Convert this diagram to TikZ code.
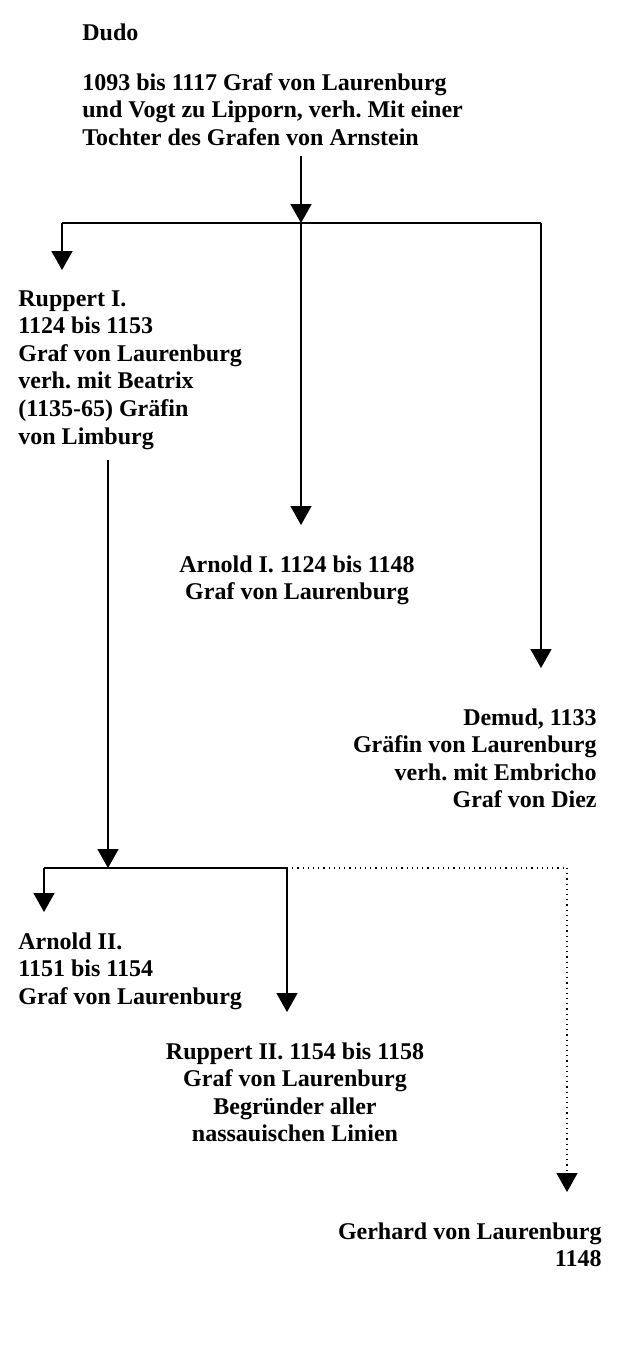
\documentclass[tikz,border=0pt]{standalone}
\usepackage{fontspec}
\setmainfont{Liberation Serif}
\frenchspacing
\usetikzlibrary{positioning,arrows.meta}

\begin{document}
\begin{tikzpicture}[x=0.5pt,y=-0.5pt,
				person/.style={inner sep=0pt, align=left, font=\fontsize{12}{13.8}\selectfont\bfseries},
				link/.style={line width=0.8pt},
				arrow/.style={link, -{Triangle[width=10.5pt,length=9.5pt]}}
			]
			\useasboundingbox (0,0) rectangle (617,1362);
			\node[person, anchor=north west] (dudo) at (82,23) {Dudo};
			\node[person, anchor=north west] (dudoinfo) at (82,73) {1093 bis 1117 Graf von Laurenburg\\und Vogt zu Lipporn, verh. Mit einer\\Tochter des Grafen von Arnstein};
			\node[person, anchor=north west] (ruppertone) at (18,290) {Ruppert I.\\1124 bis 1153\\Graf von Laurenburg\\verh. mit Beatrix\\(1135-65) Gräfin\\von Limburg};
			\node[person, align=center, anchor=north] (arnoldone) at (297,555) {Arnold I. 1124 bis 1148\\Graf von Laurenburg};
			\node[person, align=right, anchor=north east] (demud) at (597,708) {Demud, 1133\\Gräfin von Laurenburg\\verh. mit Embricho\\Graf von Diez};
			\node[person, anchor=north west] (arnoldtwo) at (18,932) {Arnold II.\\1151 bis 1154\\Graf von Laurenburg};
			\node[person, align=center, anchor=north] (rupperttwo) at (295,1042) {Ruppert II. 1154 bis 1158\\Graf von Laurenburg\\Begründer aller\\nassauischen Linien};
			\node[person, align=right, anchor=north east] (gerhard) at (602,1222) {Gerhard von Laurenburg\\1148};
			% forks
			\coordinate (topfork) at (301,223);
			\coordinate (topleft) at (62,223);
			\coordinate (topright) at (541,223);
			\coordinate (lowfork) at (108,868);
			\coordinate (lowleft) at (44,868);
			\coordinate (lowmid) at (287,868);
			\coordinate (lowright) at (567,868);
			\begin{scope}[arrow]
			\draw[shorten <=5pt] (dudoinfo.south -| topfork) -- (topfork);
			\draw (topleft) -- (62,270);
			\draw (topfork) -- (301,525);
			\draw (topright) -- (541,668);
			\draw[shorten <=5pt] (ruppertone.south -| lowfork) -- (lowfork);
			\draw (lowleft) -- (44,912);
			\draw (lowmid) -- (287,1012);
			\draw[line width=0.6pt, dotted] (lowright) -- (567,1192);
			\end{scope}
			\draw[link] (topleft) -- (topright);
			\draw[link] (lowleft) -- (lowmid);
			\draw[line width=0.6pt, dotted] (lowmid) -- (lowright);
			\end{tikzpicture}
\end{document}
